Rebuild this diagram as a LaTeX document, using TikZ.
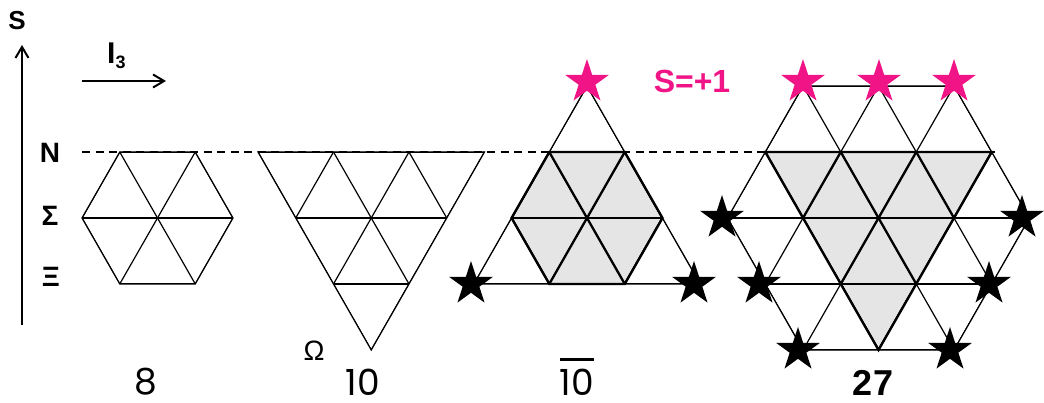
\documentclass[tikz,border=0pt]{standalone}
\usepackage{fontspec}
\setmainfont{Liberation Sans}
\newfontfamily\numfont{Poppins}
\usetikzlibrary{shapes.geometric,arrows.meta}
\definecolor{spink}{RGB}{240,20,135}
\def\ha{37.75}
\def\rh{66}
% lines of a triangular lattice through the vertex (#1,#2)
\newcommand{\weightlines}[2]{%
  \foreach \k in {-6,...,6} {
    \draw ({#1+(2*\k-5)*\ha},{#2-5*\rh}) -- ({#1+(2*\k+5)*\ha},{#2+5*\rh});
    \draw ({#1+(2*\k+5)*\ha},{#2-5*\rh}) -- ({#1+(2*\k-5)*\ha},{#2+5*\rh});
  }
  \foreach \r in {-5,...,5}
    \draw ({#1-12*\ha},{#2+\r*\rh}) -- ({#1+12*\ha},{#2+\r*\rh});
}
\newcommand{\bigtxt}[2]{{\fontsize{#1}{#1}\selectfont #2}}
\tikzset{
  latt/.style={line width=1.2pt},
  heavy/.style={line width=2.3pt},
  shade/.style={fill=gray!20},
  bstar/.style={star, star points=5, star point ratio=2.618, fill=black,
    inner sep=0pt, minimum size=46pt},
  pstar/.style={bstar, fill=spink},
  axis/.style={line width=2pt, -{Straight Barb[length=11pt,width=13pt]}},
  lbl/.style={inner sep=0pt, font=\bfseries},
  multi/.style={inner sep=0pt, font=\numfont},
}
\begin{document}
\begin{tikzpicture}[x=1pt,y=-1pt]
\useasboundingbox (0,0) rectangle (1044,403);

% axes
\coordinate (sbot) at (22,325);
\coordinate (stop) at (22,45);
\coordinate (ileft) at (82,81);
\coordinate (iright) at (166,81);
\draw[axis] (sbot) -- (stop);
\draw[axis] (ileft) -- (iright);
\node[lbl] (slabel) at (17,20.5) {\bigtxt{26}{S}};
\node[lbl, anchor=base west] (ilabel) at (107,64)
  {\bigtxt{30}{I}\raisebox{-4.5pt}{\bigtxt{18}{3}}};
\node[lbl] (nlabel) at (50,153) {\bigtxt{28}{N}};
\node[lbl] (siglabel) at (50,216) {\bigtxt{28}{Σ}};
\node[lbl] (xilabel) at (51,277) {\bigtxt{28}{Ξ}};

% dashed N line
\draw[line width=1.8pt, dash pattern=on 8pt off 5.5pt] (82,152) -- (998,152);

% octet
\begin{scope}
  \clip (82,218) -- (119.75,152) -- (195.25,152) -- (233,218) -- (195.25,284) -- (119.75,284) -- cycle;
  \begin{scope}[latt] \weightlines{157.5}{218} \end{scope}
\end{scope}
\draw[latt] (82,218) -- (119.75,152) -- (195.25,152) -- (233,218) -- (195.25,284) -- (119.75,284) -- cycle;

% decuplet
\begin{scope}
  \clip (258,152) -- (484.5,152) -- (371.25,350) -- cycle;
  \begin{scope}[latt] \weightlines{371.25}{350} \end{scope}
\end{scope}
\draw[latt] (258,152) -- (484.5,152) -- (371.25,350) -- cycle;
\node[inner sep=0pt] (omlabel) at (314,351) {\bigtxt{28}{Ω}};

% antidecuplet
\fill[shade] (511.5,218) -- (549.25,152) -- (624.75,152) -- (662.5,218) -- (624.75,284) -- (549.25,284) -- cycle;
\begin{scope}
  \clip (587,86) -- (700.25,284) -- (473.75,284) -- cycle;
  \begin{scope}[latt] \weightlines{587}{86} \end{scope}
\end{scope}
\draw[latt] (587,86) -- (700.25,284) -- (473.75,284) -- cycle;
\begin{scope}
  \clip (511.5,218) -- (549.25,152) -- (624.75,152) -- (662.5,218) -- (624.75,284) -- (549.25,284) -- cycle;
  \begin{scope}[heavy] \weightlines{587}{86} \end{scope}
\end{scope}
\draw[heavy] (511.5,218) -- (549.25,152) -- (624.75,152) -- (662.5,218) -- (624.75,284) -- (549.25,284) -- cycle;

% 27-plet
\fill[shade] (765.25,152) -- (991.75,152) -- (878.5,350) -- cycle;
\begin{scope}
  \clip (803,86) -- (954,86) -- (1029.5,218) -- (954,350) -- (803,350) -- (727.5,218) -- cycle;
  \begin{scope}[latt] \weightlines{878.5}{218} \end{scope}
\end{scope}
\draw[latt] (803,86) -- (954,86) -- (1029.5,218) -- (954,350) -- (803,350) -- (727.5,218) -- cycle;
\begin{scope}
  \clip (765.25,152) -- (991.75,152) -- (878.5,350) -- cycle;
  \begin{scope}[heavy] \weightlines{878.5}{218} \end{scope}
\end{scope}
\draw[heavy] (765.25,152) -- (991.75,152) -- (878.5,350) -- cycle;

% exotic states
\foreach \x/\y [count=\i] in {587/82, 803/82, 879/82, 954/82}
  \node[pstar] (p\i) at (\x,\y) {};
\foreach \x/\y [count=\i] in {471/284, 694/284, 722/218, 1022/218, 759/284, 989/284, 798/350, 950/350}
  \node[bstar] (b\i) at (\x,\y) {};
\node[lbl, text=spink] (plus) at (692,81.5) {\bigtxt{32}{S=+1}};

% multiplet names
\node[multi] (eight) at (146,382) {\bigtxt{36}{8}};
\node[multi] (ten) at (363,382) {\bigtxt{36}{10}};
\node[multi] (tenbar) at (577,382) {\bigtxt{36}{10}};
\draw[line width=3pt] ([yshift=9.5pt]tenbar.north west) -- ([yshift=9.5pt]tenbar.north east);
\node[lbl] (twoseven) at (873,383) {\bigtxt{36}{27}};
\end{tikzpicture}
\end{document}
